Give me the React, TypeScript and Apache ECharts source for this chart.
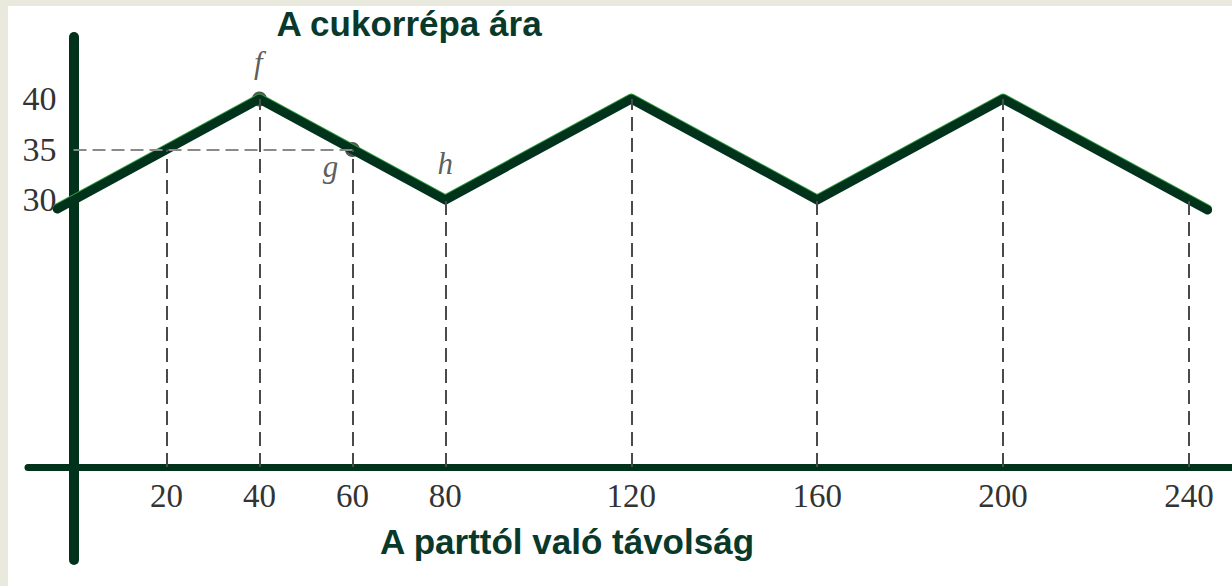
import React, { useEffect, useRef } from "react";
import * as echarts from "echarts";

// ---- data ----
const priceX = [-3.5, 40, 80, 120, 160, 200, 244];
const priceY = [29.1, 40, 30, 40, 30, 40, 29];
const xTickValues = [20, 40, 60, 80, 120, 160, 200, 240];
const yTickValues = [30, 35, 40];
const guideX = [20, 40, 60, 80, 120, 160, 200, 240];
const guideY = [35, 40, 35, 30, 40, 30, 40, 30];
const levelY = 35;
const levelFromX = 0;
const levelToX = 60;
const markedX = [40, 60];
const markedY = [40, 35];
const pointNames = ["f", "g", "h"];
const pointX = [40, 60, 80];
const pointY = [40, 35, 30];
const chartTitle = "A cukorrépa ára";
const xTitle = "A parttól való távolság";

const X_MIN = -9.79;
const X_MAX = 249.25;
const Y_MIN = 3.56;
const Y_MAX = 46.53;

const DARK = "#01321b";
const labelOffsets: Record<string, [number, number]> = {
  f: [-1, -36],
  g: [-22, 17],
  h: [0, -36],
};

export default function App() {
  const ref = useRef<HTMLDivElement>(null);
  useEffect(() => {
    if (!ref.current) return;
    const chart = echarts.init(ref.current, null, { renderer: "svg" });
    const guideLines = guideX.map((x, i) => [
      { coord: [x, Y_MIN] },
      { coord: [x, guideY[i]] },
    ]);
    const levelLine = [
      [
        { coord: [levelFromX, levelY], lineStyle: { color: "#8a8a8a", width: 2, type: [13, 6] } },
        { coord: [levelToX, levelY] },
      ],
    ];
    chart.setOption({
      animation: false,
      backgroundColor: "transparent",
      grid: [
        { left: 28, right: 0, top: 33, bottom: 119, outerBoundsMode: "none", containLabel: false },
        { left: 28, right: 0, top: 37, bottom: 26, outerBoundsMode: "none", containLabel: false },
      ],
      xAxis: [
        {
          type: "value",
          gridIndex: 0,
          min: X_MIN,
          max: X_MAX,
          splitLine: { show: false },
          axisTick: { show: false },
          axisLine: { show: true, lineStyle: { color: DARK, width: 7 } },
          axisLabel: {
            customValues: xTickValues,
            color: "#333",
            fontFamily: "Liberation Serif",
            fontSize: 33,
            lineHeight: 33,
            margin: 12,
            hideOverlap: false,
          },
        },
        {
          type: "value",
          gridIndex: 1,
          min: X_MIN,
          max: X_MAX,
          show: false,
        },
      ],
      yAxis: [
        {
          type: "value",
          gridIndex: 0,
          min: Y_MIN,
          max: Y_MAX,
          splitLine: { show: false },
          axisTick: { show: false },
          axisLine: { show: false },
          axisLabel: {
            customValues: yTickValues,
            color: "#333",
            fontFamily: "Liberation Serif",
            fontSize: 34,
            margin: -28.5,
          },
        },
        {
          type: "value",
          gridIndex: 1,
          min: 0,
          max: 1,
          splitLine: { show: false },
          axisTick: { show: false },
          axisLabel: { show: false },
          axisLine: {
            show: true,
            onZero: true,
            lineStyle: { color: DARK, width: 10, cap: "round" },
          },
        },
      ],
      series: [
        {
          type: "line",
          xAxisIndex: 0,
          yAxisIndex: 0,
          data: [],
          z: 1,
          silent: true,
          markLine: {
            silent: true,
            symbol: ["none", "none"],
            label: { show: false },
            lineStyle: { color: "#4a4a4a", width: 2, type: [14, 7] },
            data: [...guideLines, ...levelLine],
          },
        },
        {
          type: "scatter",
          xAxisIndex: 0,
          yAxisIndex: 0,
          z: 2,
          silent: true,
          symbol: "circle",
          symbolSize: 15,
          itemStyle: { color: "#2a2a2a" },
          data: markedX.map((x, i) => [x, markedY[i]]),
        },
        {
          type: "line",
          xAxisIndex: 0,
          yAxisIndex: 0,
          z: 3,
          silent: true,
          showSymbol: false,
          symbol: "none",
          data: priceX.map((x, i) => [x, priceY[i]]),
          lineStyle: {
            color: DARK,
            width: 9,
            cap: "round",
            join: "round",
            shadowColor: "#2f9a3c",
            shadowBlur: 0,
            shadowOffsetY: -1,
          },
        },
        {
          type: "scatter",
          xAxisIndex: 0,
          yAxisIndex: 0,
          z: 4,
          silent: true,
          symbolSize: 0,
          data: pointNames.map((n, i) => ({
            name: n,
            value: [pointX[i], pointY[i]],
            label: {
              show: true,
              formatter: n,
              position: "inside",
              offset: labelOffsets[n],
              color: "#333",
              fontFamily: "Liberation Serif",
              fontStyle: "italic",
              fontSize: 31,
            },
          })),
        },
      ],
      graphic: [
        {
          type: "text",
          x: 409,
          y: 23.5,
          style: {
            text: chartTitle,
            fill: "#08392a",
            fontFamily: "Liberation Sans",
            fontWeight: "bold",
            fontSize: 35,
            align: "center",
            verticalAlign: "middle",
          },
        },
        {
          type: "text",
          x: 567,
          y: 541.5,
          style: {
            text: xTitle,
            fill: "#08392a",
            fontFamily: "Liberation Sans",
            fontWeight: "bold",
            fontSize: 35,
            align: "center",
            verticalAlign: "middle",
          },
        },
      ],
    });
    return () => chart.dispose();
  }, []);

  return (
    <div
      style={{
        position: "fixed",
        left: 0,
        top: 0,
        width: 1232,
        height: 586,
        background: "#e9e9de",
      }}
    >
      <div
        style={{
          position: "absolute",
          left: 8,
          top: 6,
          right: 0,
          bottom: 0,
          background: "#ffffff",
        }}
      />
      <div
        ref={ref}
        style={{ position: "absolute", left: 0, top: 0, width: 1232, height: 586 }}
      />
    </div>
  );
}
